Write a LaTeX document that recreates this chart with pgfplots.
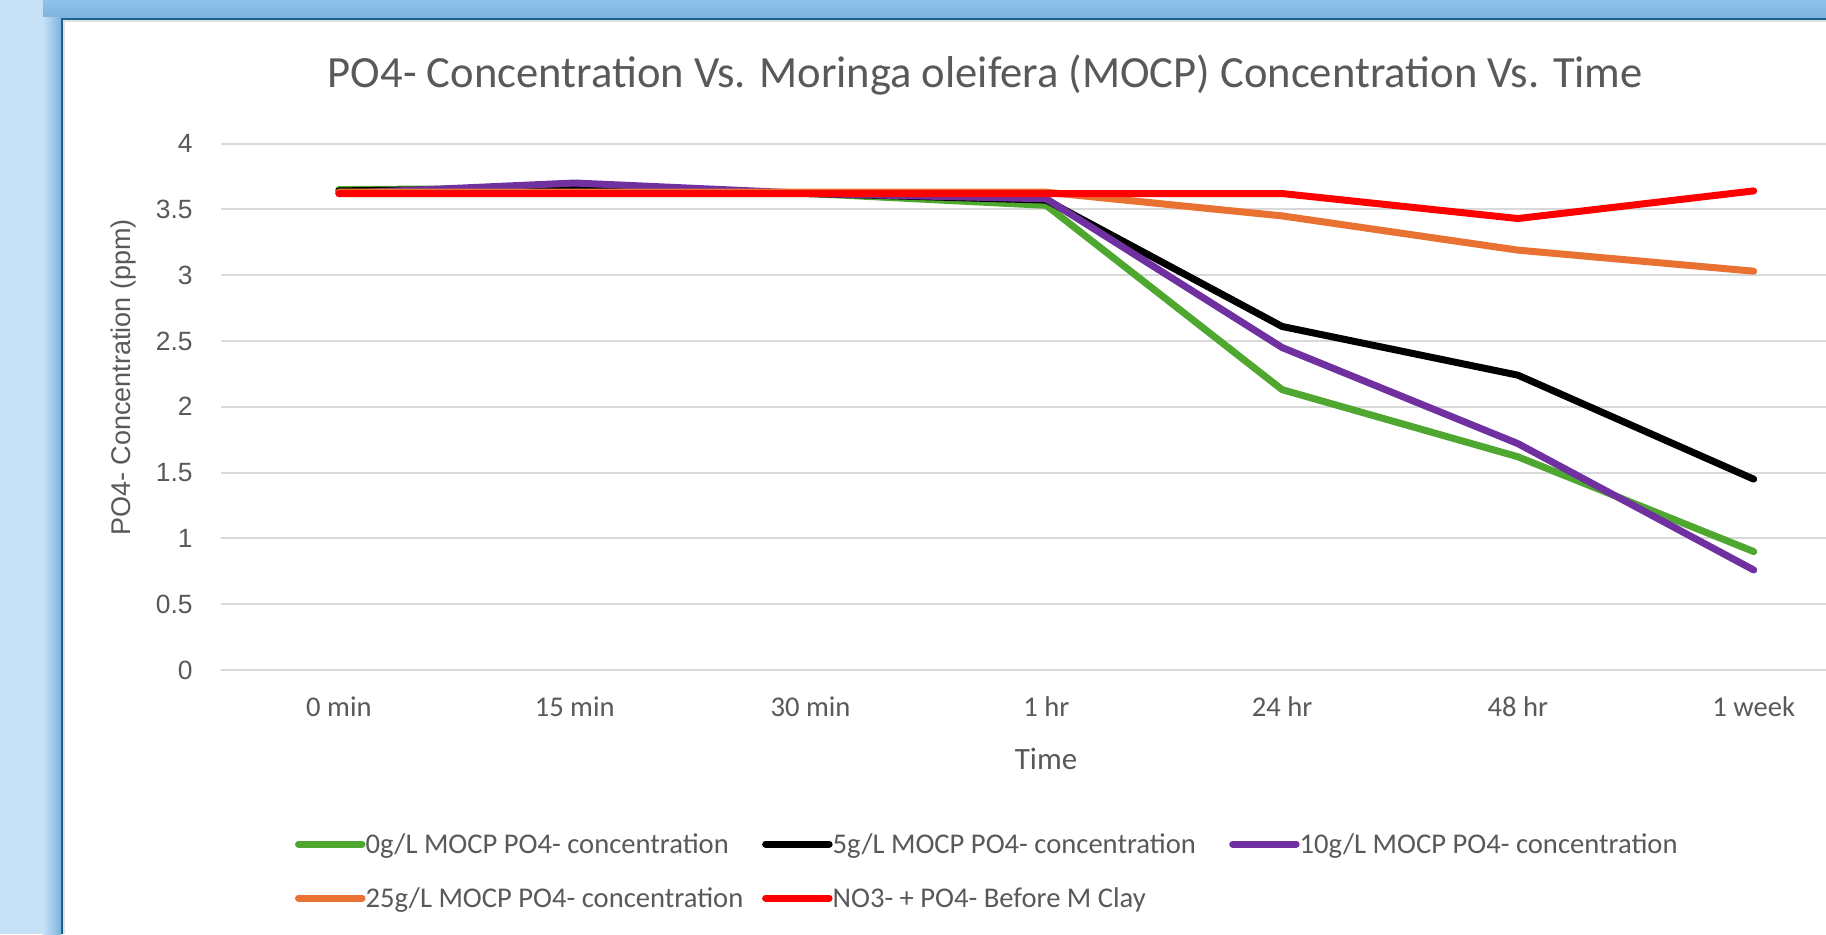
\documentclass[border=0pt]{standalone}
\usepackage{pgfplots}
\pgfplotsset{compat=1.18}
\usepackage{fontspec}
\setmainfont{Carlito}
\newfontfamily\arialf{Liberation Sans}
\definecolor{tickgray}{HTML}{595959}
\definecolor{gridgray}{HTML}{D9D9D9}
\definecolor{sgreen}{HTML}{4EA72E}
\definecolor{spurple}{HTML}{7030A0}
\definecolor{sorange}{HTML}{E97132}
\definecolor{sred}{HTML}{FF0000}
\definecolor{frameA}{RGB}{198,225,246}
\definecolor{frameB}{RGB}{125,179,221}
\definecolor{frameC}{RGB}{29,97,144}
\definecolor{frameT}{RGB}{140,194,236}
\newcommand\lent[1]{\makebox[198.3pt][l]{#1}}
\begin{document}
\begin{tikzpicture}
\useasboundingbox (0,0) rectangle (913pt,467pt);
\clip (0,0) rectangle (913pt,467pt);
\fill[white] (0,0) rectangle (913pt,467pt);
% window frame
\shade[top color=frameT, bottom color=frameB] (0,458pt) rectangle (913pt,467pt);
\fill[frameA] (0,0) rectangle (21.5pt,467pt);
\shade[left color=frameA, right color=frameB] (21.5pt,0) rectangle (30.5pt,458pt);
\fill[frameC] (30.5pt,0) rectangle (31.5pt,458pt);
\fill[frameC] (30.5pt,457pt) rectangle (913pt,458pt);
\fill[black!12] (31.5pt,0) rectangle (32.5pt,457pt);
\fill[black!12] (31.5pt,456pt) rectangle (913pt,457pt);
\begin{axis}[
  at={(110.5pt,132pt)}, anchor=south west,
  scale only axis, width=825.3pt, height=263.25pt,
  xmin=-0.5, xmax=6.5, ymin=0, ymax=4,
  axis line style={draw=none},
  xtick={0,1,2,3,4,5,6},
  xticklabels={0 min,15 min,30 min,1 hr,24 hr,48 hr,1 week},
  ytick={0,0.5,1,1.5,2,2.5,3,3.5,4},
  major tick length=0pt,
  ymajorgrids, grid style={gridgray, line width=1pt},
  /pgf/number format/assume math mode=true,
  yticklabel style={font=\arialf\fontsize{13.2}{15}\selectfont, text=tickgray, anchor=east, inner sep=0pt, xshift=-14pt},
  xticklabel style={font=\fontsize{14.3}{17}\selectfont, text=tickgray, anchor=base, inner sep=0pt, yshift=-23.4pt},
  every axis plot/.append style={line width=3.5pt, line join=round, line cap=round},
  legend columns=3,
  legend cell align=left,
  legend style={at={(axis description cs:0.0446,-0.3818)}, anchor=west, draw=none, fill=none, inner sep=0pt,
    column sep=0pt, row sep=13.7pt, font=\fontsize{14.3}{17}\selectfont, text=tickgray,
    nodes={inner xsep=0pt, inner ysep=0pt, text height=11.3pt, text depth=2pt}},
  legend image code/.code={\path (0pt,0pt) -- (31.75pt,0pt); \draw[#1] (1.75pt,0pt) -- (30pt,0pt);},
]
\addplot[sgreen] coordinates {(0,3.65) (1,3.66) (2,3.62) (3,3.53) (4,2.13) (5,1.62) (6,0.90)};
\addlegendentry{\lent{0g/L MOCP PO4- concentration}}
\addplot[black] coordinates {(0,3.64) (1,3.66) (2,3.62) (3,3.57) (4,2.61) (5,2.24) (6,1.45)};
\addlegendentry{\lent{5g/L MOCP PO4- concentration}}
\addplot[spurple] coordinates {(0,3.62) (1,3.70) (2,3.62) (3,3.58) (4,2.45) (5,1.72) (6,0.76)};
\addlegendentry{\lent{10g/L MOCP PO4- concentration}}
\addplot[sorange] coordinates {(0,3.63) (1,3.63) (2,3.63) (3,3.63) (4,3.45) (5,3.19) (6,3.03)};
\addlegendentry{\lent{25g/L MOCP PO4- concentration}}
\addplot[sred] coordinates {(0,3.62) (1,3.62) (2,3.62) (3,3.62) (4,3.62) (5,3.43) (6,3.64)};
\addlegendentry{\lent{NO3- + PO4- Before M Clay}}
\end{axis}
\node[anchor=base, font=\fontsize{22.3}{26}\selectfont, text=tickgray] at (492.75pt,423pt) {PO4- Concentration Vs. Moringa oleifera (MOCP) Concentration Vs. Time};
\node[anchor=base, font=\fontsize{15.5}{18}\selectfont, text=tickgray] at (523pt,82.5pt) {Time};
\node[rotate=90, anchor=base, font=\arialf\fontsize{13.5}{16}\selectfont, text=tickgray] at (65pt,278.25pt) {PO4- Concentration (ppm)};
\end{tikzpicture}
\end{document}
